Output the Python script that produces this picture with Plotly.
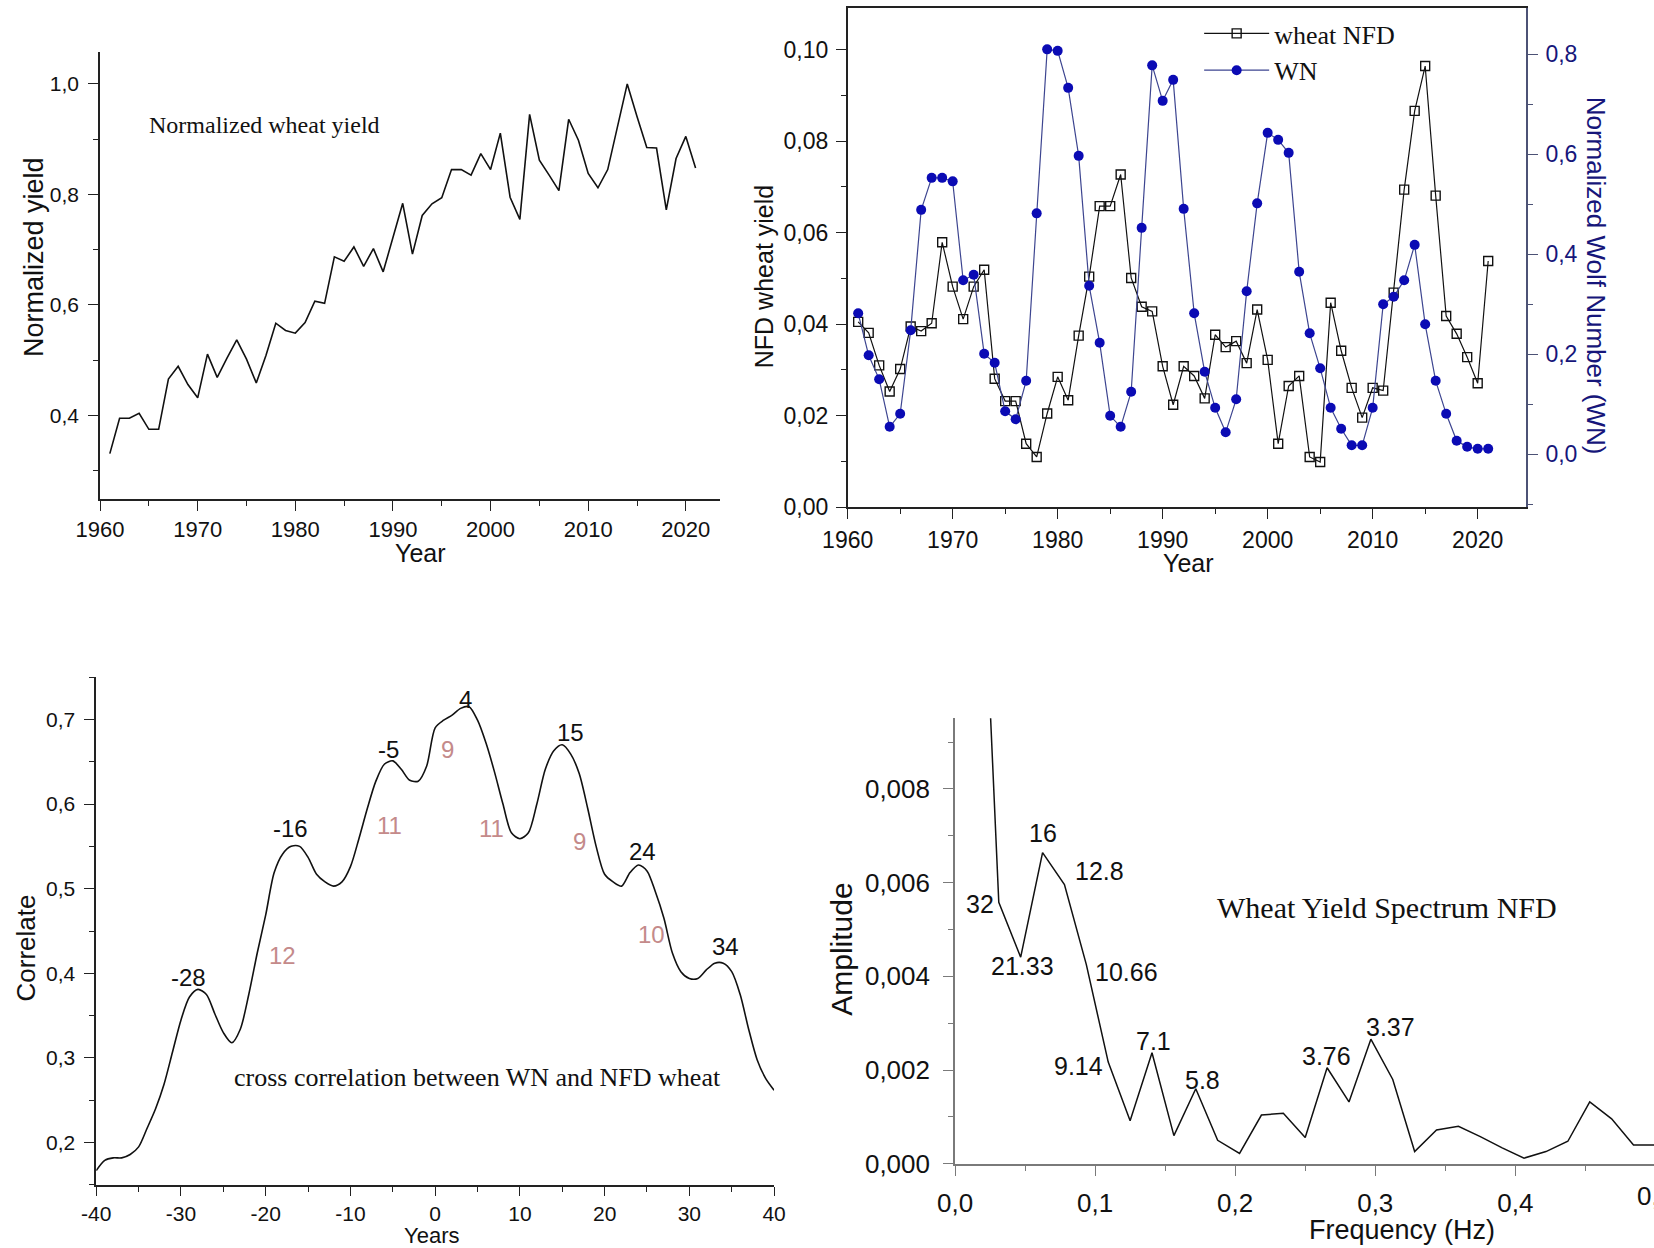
import plotly.graph_objects as go

# ---------------- Panel 1: normalized wheat yield ----------------
years = list(range(1961, 2022))
norm_yield = [0.331, 0.395, 0.395, 0.404, 0.375, 0.375, 0.466, 0.489, 0.456, 0.432,
              0.511, 0.469, 0.504, 0.537, 0.502, 0.459, 0.509, 0.567, 0.554, 0.549,
              0.568, 0.607, 0.603, 0.687, 0.679, 0.705, 0.670, 0.702, 0.660, 0.722,
              0.784, 0.692, 0.762, 0.783, 0.794, 0.845, 0.845, 0.835, 0.874, 0.845,
              0.911, 0.795, 0.755, 0.945, 0.862, 0.835, 0.807, 0.936, 0.898, 0.838,
              0.812, 0.845, 0.921, 1.000, 0.941, 0.885, 0.884, 0.772, 0.865, 0.905,
              0.848]

# ---------------- Panel 2: NFD wheat yield and Wolf number ----------------
nfd_wheat = [0.0405, 0.0381, 0.0310, 0.0253, 0.0302, 0.0395, 0.0385, 0.0402, 0.0579, 0.0482,
             0.0411, 0.0482, 0.0519, 0.0281, 0.0232, 0.0232, 0.0139, 0.0110, 0.0205, 0.0285,
             0.0234, 0.0375, 0.0504, 0.0658, 0.0658, 0.0727, 0.0501, 0.0438, 0.0428, 0.0308,
             0.0224, 0.0308, 0.0287, 0.0238, 0.0377, 0.0350, 0.0363, 0.0315, 0.0432, 0.0322,
             0.0139, 0.0265, 0.0287, 0.0110, 0.0099, 0.0447, 0.0342, 0.0261, 0.0196, 0.0261,
             0.0255, 0.0469, 0.0694, 0.0866, 0.0964, 0.0681, 0.0418, 0.0379, 0.0328, 0.0271,
             0.0538]
wolf_number = [0.282, 0.198, 0.150, 0.055, 0.081, 0.248, 0.489, 0.553, 0.553, 0.546,
               0.348, 0.359, 0.201, 0.183, 0.086, 0.070, 0.147, 0.482, 0.810, 0.807,
               0.733, 0.597, 0.337, 0.223, 0.077, 0.055, 0.125, 0.453, 0.778, 0.707,
               0.749, 0.491, 0.282, 0.165, 0.093, 0.044, 0.110, 0.326, 0.502, 0.643,
               0.629, 0.603, 0.365, 0.242, 0.172, 0.093, 0.051, 0.018, 0.018, 0.093,
               0.300, 0.315, 0.348, 0.419, 0.260, 0.147, 0.081, 0.027, 0.015, 0.011,
               0.011]

# ---------------- Panel 3: cross correlation ----------------
lags = list(range(-40, 41))
correlation = [0.167, 0.179, 0.182, 0.182, 0.186, 0.195, 0.217, 0.240, 0.269, 0.307,
               0.345, 0.372, 0.381, 0.375, 0.352, 0.330, 0.318, 0.334, 0.375, 0.424,
               0.469, 0.519, 0.541, 0.550, 0.550, 0.537, 0.517, 0.508, 0.503, 0.508,
               0.526, 0.559, 0.595, 0.627, 0.647, 0.651, 0.641, 0.628, 0.627, 0.645,
               0.690, 0.699, 0.705, 0.713, 0.715, 0.699, 0.672, 0.638, 0.600, 0.566,
               0.559, 0.566, 0.600, 0.641, 0.663, 0.670, 0.659, 0.636, 0.595, 0.550,
               0.517, 0.508, 0.503, 0.519, 0.528, 0.521, 0.496, 0.465, 0.424, 0.402,
               0.394, 0.394, 0.404, 0.412, 0.412, 0.402, 0.375, 0.334, 0.298, 0.276,
               0.262]
lag_ticks = [-40, -30, -20, -10, 0, 10, 20, 30, 40]
lag_ticktext = ["-40", "-30", "-20", "-10", "0", "10", "20", "30", "40"]
peak_labels = ["-28", "-16", "-5", "4", "15", "24", "34"]
peak_x = [-29.1, -17.1, -5.5, 3.6, 16.0, 24.5, 34.3]
peak_y = [0.395, 0.571, 0.664, 0.724, 0.684, 0.544, 0.432]
gap_labels = ["12", "11", "9", "11", "9", "10"]
gap_x = [-18.0, -5.4, 1.4, 6.6, 17.0, 25.5]
gap_y = [0.421, 0.575, 0.665, 0.571, 0.556, 0.446]

# ---------------- Panel 4: spectrum ----------------
freq = [k / 64 for k in range(1, 33)]
amplitude = [0.0161, 0.00558, 0.00441, 0.00664, 0.00596, 0.00425, 0.00217, 0.00092,
             0.00237, 0.00060, 0.00160, 0.00050, 0.00022, 0.00104, 0.00108, 0.00056,
             0.00205, 0.00132, 0.00266, 0.00180, 0.00026, 0.00072, 0.00080, 0.00058,
             0.00034, 0.00012, 0.00026, 0.00048, 0.00132, 0.00096, 0.00040, 0.00040]
period_labels = ["32", "21.33", "16", "12.8", "10.66", "9.14", "7.1", "5.8", "3.76", "3.37"]
period_x = [0.0175, 0.0479, 0.063, 0.103, 0.1226, 0.0883, 0.142, 0.177, 0.265, 0.311]
period_y = [0.00555, 0.00423, 0.00706, 0.00624, 0.00409, 0.00209, 0.00262, 0.00179, 0.00229, 0.00291]

SANS = "Liberation Sans, Arial, sans-serif"
SERIF = "Liberation Serif, Times New Roman, serif"
NAVY = "#16167a"
BLUE = "#0b0bb4"
INK = "#111111"

fig = go.Figure()

fig.add_trace(go.Scatter(x=years, y=norm_yield, mode="lines", line=dict(color=INK, width=1.6),
                         xaxis="x", yaxis="y", showlegend=False))

fig.add_trace(go.Scatter(x=years, y=nfd_wheat, mode="lines+markers", name="wheat NFD",
                         line=dict(color=INK, width=1.2),
                         marker=dict(symbol="square-open", size=9, color=INK, line=dict(width=1.4)),
                         xaxis="x2", yaxis="y2"))
fig.add_trace(go.Scatter(x=years, y=wolf_number, mode="lines+markers", name="WN",
                         line=dict(color="#3d4590", width=1.2),
                         marker=dict(symbol="circle", size=10, color=BLUE),
                         xaxis="x2", yaxis="y3"))

fig.add_trace(go.Scatter(x=lags, y=correlation, mode="lines",
                         line=dict(color=INK, width=1.6, shape="spline", smoothing=0.8),
                         xaxis="x3", yaxis="y4", showlegend=False))

fig.add_trace(go.Scatter(x=freq, y=amplitude, mode="lines", line=dict(color=INK, width=1.5),
                         xaxis="x4", yaxis="y5", showlegend=False))


def axis(color="#222222", size=22, standoff=0, **kw):
    d = dict(showgrid=False, zeroline=False, showline=True, linecolor=color, linewidth=1.6,
             ticks="outside", ticklen=10, tickwidth=1.4, tickcolor=color, ticklabelstandoff=standoff,
             automargin=False, tickfont=dict(size=size, family=SANS, color=INK))
    d.update(kw)
    return d


def minor(dtick, tick0, color="#222222"):
    return dict(ticks="outside", ticklen=5, tickwidth=1.3, dtick=dtick, tick0=tick0, tickcolor=color)


year_ticks = [1960, 1970, 1980, 1990, 2000, 2010, 2020]

fig.update_layout(
    width=1654, height=1248, autosize=False,
    margin=dict(l=0, r=0, t=0, b=0, pad=0),
    paper_bgcolor="white", plot_bgcolor="white",
    separators=", ",
    font=dict(family=SANS, color=INK),
    xaxis=axis(domain=[0.0605, 0.4353], anchor="y", range=[1960, 2023.5], tickvals=year_ticks,
               minor=minor(5, 1960)),
    yaxis=axis(size=21, standoff=5, domain=[0.6002, 0.958], anchor="x", range=[0.249, 1.057],
               tickvals=[0.4, 0.6, 0.8, 1.0], tickformat=".1f", minor=minor(0.1, 0.3)),
    xaxis2=axis(size=23, standoff=1, domain=[0.5125, 0.9226], anchor="y2", range=[1960, 2024.6],
                tickvals=year_ticks, minor=minor(5, 1960), mirror=True),
    xaxis5=dict(overlaying="x2", side="top", anchor="y2", range=[1960, 2024.6], tickvals=year_ticks,
                showline=False, showgrid=False, zeroline=False, showticklabels=False, automargin=False,
                ticks="inside", ticklen=9, tickwidth=1.4, tickcolor="#222222",
                minor=dict(ticks="inside", ticklen=5, tickwidth=1.3, dtick=5, tick0=1960, tickcolor="#222222")),
    yaxis2=axis(size=23, standoff=3, domain=[0.5935, 0.9933], anchor="x2", range=[0, 0.109],
                tickvals=[0, 0.02, 0.04, 0.06, 0.08, 0.10], tickformat=".2f", minor=minor(0.02, 0.01)),
    yaxis3=axis(color="#4c5275", size=23, standoff=3, overlaying="y2", anchor="x2", side="right",
                range=[-0.106, 0.892], tickvals=[0, 0.2, 0.4, 0.6, 0.8], tickformat=".1f",
                minor=minor(0.2, 0.1, "#4c5275"), tickfont=dict(size=23, family=SANS, color=NAVY)),
    xaxis3=axis(size=21, standoff=0, ticklen=9, domain=[0.0582, 0.468], anchor="y4", range=[-40, 40],
                tickvals=lag_ticks, ticktext=lag_ticktext, minor=minor(5, -40)),
    yaxis4=axis(size=21, standoff=5, domain=[0.0505, 0.4575], anchor="x3", range=[0.15, 0.75],
                tickvals=[0.2, 0.3, 0.4, 0.5, 0.6, 0.7], tickformat=".1f", minor=minor(0.1, 0.15)),
    xaxis4=axis(color="#7a7a7a", size=26, standoff=5, domain=[0.5774, 1.0], anchor="y5", range=[0, 0.499],
                tickvals=[0, 0.1, 0.2, 0.3, 0.4], tickformat=".1f", minor=minor(0.1, 0.05, "#7a7a7a")),
    yaxis5=axis(color="#7a7a7a", size=26, standoff=8, domain=[0.0675, 0.4245], anchor="x4", range=[0, 0.00951],
                tickvals=[0, 0.002, 0.004, 0.006, 0.008], tickformat=".3f", minor=minor(0.002, 0.001, "#7a7a7a")),
    legend=dict(x=0.725, y=0.992, xanchor="left", yanchor="top", bgcolor="rgba(0,0,0,0)",
                font=dict(family=SERIF, size=26, color=INK), tracegroupgap=0, itemwidth=65),
)

ann = []


def label(text, x, y, size, angle=0, color=INK, family=SANS, xref="paper", yref="paper"):
    ann.append(dict(text=text, x=x, y=y, xref=xref, yref=yref, showarrow=False,
                    textangle=angle, font=dict(size=size, family=family, color=color),
                    xanchor="center", yanchor="middle"))


label("Normalized yield", 0.0205, 0.794, 27, -90)
label("Year", 0.2545, 0.557, 25)
label("Normalized wheat yield", 0.1597, 0.900, 24, family=SERIF)
label("NFD wheat yield", 0.4620, 0.778, 25, -90)
label("Year", 0.7183, 0.5485, 25)
label("Normalized Wolf Number (WN)", 0.9650, 0.779, 26, 90, color=NAVY)
label("Correlate", 0.0155, 0.2405, 26, -90)
label("Years", 0.2609, 0.0102, 22)
label("cross correlation between WN and NFD wheat", 5.0, 0.277, 26, family=SERIF, xref="x3", yref="y4")
label("Amplitude", 0.5091, 0.239, 30, -90)
label("Frequency (Hz)", 0.8477, 0.0145, 27)
label("Wheat Yield Spectrum NFD", 0.3086, 0.00547, 30, family=SERIF, xref="x4", yref="y5")
label("0,5", 1.0006, 0.0415, 26)

for t, x, y in zip(peak_labels, peak_x, peak_y):
    label(t, x, y, 24, xref="x3", yref="y4")
for t, x, y in zip(gap_labels, gap_x, gap_y):
    label(t, x, y, 24, color="#c48a8a", xref="x3", yref="y4")
for t, x, y in zip(period_labels, period_x, period_y):
    label(t, x, y, 25, xref="x4", yref="y5")

fig.update_layout(annotations=ann)

fig.write_html("out.html", config={"displayModeBar": False},
               post_script="document.body.style.margin='0';document.body.style.overflow='hidden';")
